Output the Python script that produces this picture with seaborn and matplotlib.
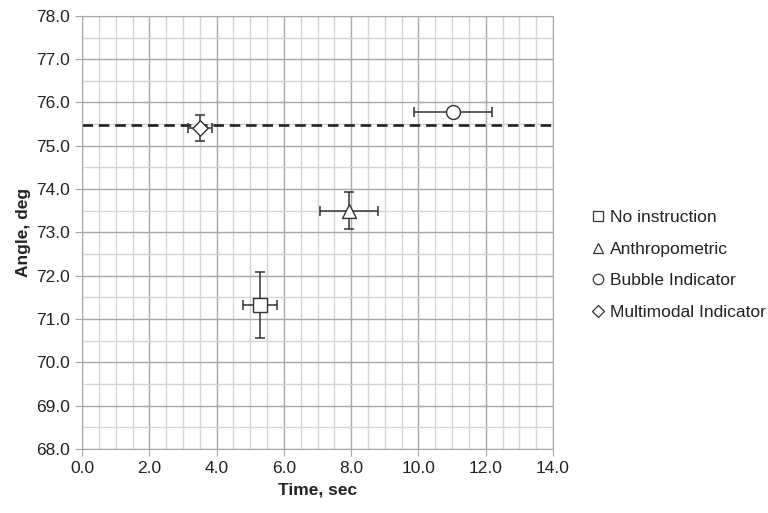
import pandas as pd
import numpy as np
import matplotlib
matplotlib.use("Agg")
import matplotlib.pyplot as plt
import seaborn as sns
from matplotlib.ticker import MultipleLocator, FormatStrFormatter

# Mean values
conditions = ['No instruction', 'Anthropometric', 'Bubble Indicator', 'Multimodal Indicator']
time_sec = [5.29, 7.94, 11.03, 3.51]
angle_deg = [71.32, 73.50, 75.77, 75.41]
time_err = [0.50, 0.87, 1.17, 0.36]
angle_err = [0.76, 0.43, 0.0, 0.29]
target_angle = 75.47

df = pd.DataFrame({'condition': conditions, 'time': time_sec, 'angle': angle_deg,
                   'xerr': time_err, 'yerr': angle_err})

sns.set_style("white")
plt.rcParams['font.family'] = ['Liberation Sans', 'DejaVu Sans']

fig = plt.figure(figsize=(7.68, 5.13), dpi=100)
ax = fig.add_axes([0.107, 0.125, 0.613, 0.844])

# error bars first so markers sit on top
ax.errorbar(df['time'], df['angle'], xerr=df['xerr'], yerr=df['yerr'], fmt='none',
            ecolor='#333333', elinewidth=1.1, capsize=3.5, capthick=1.1, zorder=3)

ax.axhline(target_angle, color='#222222', linestyle=(0, (4, 2.2)), linewidth=1.9, zorder=2)

marker_map = {'No instruction': 's', 'Anthropometric': '^',
              'Bubble Indicator': 'o', 'Multimodal Indicator': 'D'}
sizes = {'No instruction': 90, 'Anthropometric': 100,
         'Bubble Indicator': 100, 'Multimodal Indicator': 60}
for c in conditions:
    sns.scatterplot(data=df[df['condition'] == c], x='time', y='angle', marker=marker_map[c],
                    color='white', edgecolor='#333333', linewidth=1.0,
                    s=sizes[c], ax=ax, zorder=4, legend=False)

ax.set_xlim(0, 14)
ax.set_ylim(68, 78)
ax.xaxis.set_major_locator(MultipleLocator(2))
ax.xaxis.set_minor_locator(MultipleLocator(0.5))
ax.yaxis.set_major_locator(MultipleLocator(1))
ax.yaxis.set_minor_locator(MultipleLocator(0.5))
ax.xaxis.set_major_formatter(FormatStrFormatter('%.1f'))
ax.yaxis.set_major_formatter(FormatStrFormatter('%.1f'))
ax.grid(which='major', color='#a8a8a8', linewidth=1.0)
ax.grid(which='minor', color='#d4d4d4', linewidth=1.0)
ax.set_axisbelow(True)
for s in ax.spines.values():
    s.set_color('#a8a8a8')
ax.tick_params(which='major', direction='out', length=5, color='#a8a8a8',
               labelsize=12.5, labelcolor='#222222', left=True, bottom=True)
ax.tick_params(which='minor', length=0)

ax.set_xlabel('Time, sec', fontsize=12.5, fontweight='bold', color='#222222', labelpad=5)
ax.set_ylabel('Angle, deg', fontsize=12.5, fontweight='bold', color='#222222', labelpad=4)

handles = [plt.Line2D([], [], marker=marker_map[c], linestyle='none',
                      markersize=7.5 if c != 'Multimodal Indicator' else 6,
                      markerfacecolor='white', markeredgecolor='#333333', markeredgewidth=0.9)
           for c in conditions]
ax.legend(handles, conditions, loc='center left', bbox_to_anchor=(1.045, 0.425), frameon=False,
          fontsize=12.5, handletextpad=0.15, handlelength=1.0, labelspacing=0.95,
          labelcolor='#222222')

fig.savefig('out.png', dpi=100)
